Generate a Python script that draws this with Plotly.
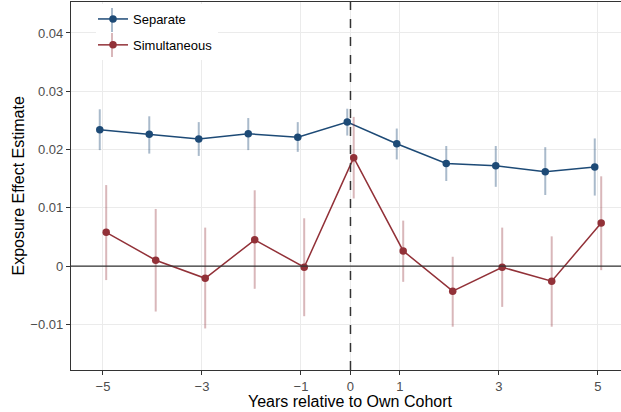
import plotly.graph_objects as go

years = [-5, -4, -3, -2, -1, 0, 1, 2, 3, 4, 5]

sep_est = [0.0234, 0.0226, 0.0218, 0.0227, 0.0221, 0.0247, 0.0210, 0.0176, 0.0172, 0.0162, 0.0170]
sep_lo = [0.0199, 0.0193, 0.0189, 0.0199, 0.0196, 0.0224, 0.0183, 0.0146, 0.0136, 0.0122, 0.0121]
sep_hi = [0.0269, 0.0257, 0.0247, 0.0254, 0.0247, 0.0270, 0.0236, 0.0206, 0.0206, 0.0204, 0.0219]

sim_est = [0.0058, 0.0010, -0.0021, 0.0045, -0.0002, 0.0186, 0.0026, -0.0043, -0.0002, -0.0026, 0.0074]
sim_lo = [-0.0024, -0.0078, -0.0107, -0.0039, -0.0086, 0.0116, -0.0027, -0.0104, -0.0070, -0.0104, -0.0007]
sim_hi = [0.0139, 0.0098, 0.0066, 0.0130, 0.0082, 0.0256, 0.0078, 0.0016, 0.0066, 0.0051, 0.0154]

x_ticks = [-5, -3, -1, 0, 1, 3, 5]
x_ticktext = ["\u22125", "\u22123", "\u22121", "0", "1", "3", "5"]
y_ticks = [-0.01, 0, 0.01, 0.02, 0.03, 0.04]
y_ticktext = ["\u22120.01", "0", "0.01", "0.02", "0.03", "0.04"]

SEP_COL = "#1d4a76"
SIM_COL = "#923138"
SEP_ERR = "rgba(29,74,118,0.38)"
SIM_ERR = "rgba(146,49,56,0.35)"
DODGE = 0.065

# layout geometry (pixels)
W, H = 621, 412
ML, MR, MT, MB = 71, 0, 2, 42
PW, PH = W - ML - MR, H - MT - MB

def px_x(p):
    return (p - ML) / PW

def px_y(p):
    return (H - MB - p) / PH

fig = go.Figure()

def add_series(name, est, lo, hi, col, errcol, shift):
    xs = [y + shift for y in years]
    fig.add_trace(go.Scatter(
        x=xs, y=est, name=name, mode="lines+markers",
        legendgroup=name,
        line=dict(color=col, width=1.5),
        marker=dict(color=col, size=7.5),
        error_y=dict(type="data", symmetric=False,
                     array=[h - e for h, e in zip(hi, est)],
                     arrayminus=[e - l for e, l in zip(est, lo)],
                     color=errcol, thickness=2, width=0),
    ))

add_series("Separate", sep_est, sep_lo, sep_hi, SEP_COL, SEP_ERR, -DODGE)
add_series("Simultaneous", sim_est, sim_lo, sim_hi, SIM_COL, SIM_ERR, DODGE)

fig.add_hline(y=0, line=dict(color="#333333", width=1.3), layer="above")
fig.add_vline(x=0, line=dict(color="#333333", width=1.5, dash="dash"), layer="above")

# legend background + error-bar glyphs in legend keys
fig.add_shape(type="rect", xref="paper", yref="paper",
              x0=px_x(96), x1=px_x(218), y0=px_y(60), y1=px_y(4),
              fillcolor="white", line=dict(width=0), layer="above")
for yc, c in [(20, SEP_ERR), (45, SIM_ERR)]:
    fig.add_shape(type="line", xref="paper", yref="paper",
                  x0=px_x(112), x1=px_x(112), y0=px_y(yc + 12), y1=px_y(yc - 12),
                  line=dict(color=c, width=2), layer="above")

fig.add_annotation(text="Years relative to Own Cohort", xref="paper", yref="paper",
                   x=px_x(350.5), y=px_y(401), xanchor="center", yanchor="middle",
                   showarrow=False, font=dict(size=16, color="#000000"))
fig.add_annotation(text="Exposure Effect Estimate", xref="paper", yref="paper",
                   x=px_x(17.5), y=px_y(186), xanchor="center", yanchor="middle",
                   textangle=-90, showarrow=False, font=dict(size=16, color="#000000"))

fig.update_layout(
    width=W, height=H,
    margin=dict(l=ML, r=MR, t=MT, b=MB, autoexpand=False),
    paper_bgcolor="white", plot_bgcolor="white",
    font=dict(family="Liberation Sans, Arial, sans-serif", color="#000000"),
    showlegend=True,
    legend=dict(x=px_x(93), y=px_y(4), xanchor="left", yanchor="top",
                bgcolor="rgba(0,0,0,0)", font=dict(size=13, color="#000000"),
                traceorder="grouped", tracegroupgap=6),
    xaxis=dict(
        range=[-5.646, 5.465], tickvals=x_ticks, ticktext=x_ticktext,
        showgrid=True, gridcolor="#ebebeb", gridwidth=1.2, zeroline=False,
        showline=True, linecolor="#333333", linewidth=1.3, mirror=True,
        ticks="outside", ticklen=4, tickcolor="#333333",
        tickfont=dict(size=13, color="#4d4d4d"), automargin=False,
    ),
    yaxis=dict(
        range=[-0.01783, 0.04531], tickvals=y_ticks, ticktext=y_ticktext,
        showgrid=True, gridcolor="#ebebeb", gridwidth=1.2, zeroline=False,
        showline=True, linecolor="#333333", linewidth=1.3,
        ticks="outside", ticklen=4, tickcolor="#333333",
        tickfont=dict(size=13, color="#4d4d4d"), automargin=False,
    ),
)

fig.write_html("out.html", config={"displayModeBar": False},
               post_script="document.body.style.margin='0';document.body.style.overflow='hidden';")
